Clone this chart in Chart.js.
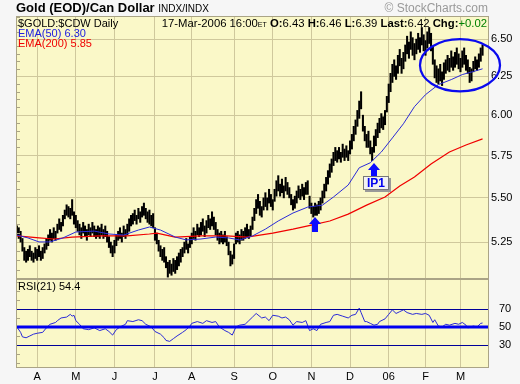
<!DOCTYPE html>
<html>
<head>
<meta charset="utf-8">
<script src="https://cdn.jsdelivr.net/npm/chart.js@4.4.1/dist/chart.umd.min.js"></script>
<style>
  body { margin: 0; background: #f6f6f6; font-family: "Liberation Sans", Arial, sans-serif; }
  #wrap { position: relative; width: 520px; height: 384px; overflow: hidden; }
  canvas { position: absolute; left: 0; }
  .t { position: absolute; white-space: nowrap; font-size: 11px; line-height: 11px; color: #000; }
  #ip1 { position: absolute; font: bold 12px "Liberation Sans", Arial, sans-serif; color: #0000f0;
         background: #f2f2f2; border: 1px solid #777; box-shadow: 2px 2px 0 #999;
         width: 24px; height: 12px; line-height: 12px; text-align: center; }
</style>
</head>
<body>
<div id="wrap">
  <canvas id="main" width="520" height="280" style="top:0"></canvas>
  <canvas id="rsi" width="520" height="105" style="top:279px"></canvas>

  <div class="t" style="left:16px;top:0px;font-weight:bold;font-size:13px;line-height:15px">Gold (EOD)/Can Dollar <span style="font-weight:normal;font-size:10px">INDX/INDX</span></div>
  <div class="t" style="right:32px;top:2px;font-size:12px;line-height:12px;color:#999">© StockCharts.com</div>
  <div class="t" style="right:33px;top:18px;font-size:11.3px">17-Mar-2006 16:00<span style="font-size:7px">ET</span> <b>O:</b>6.43 <b>H:</b>6.46 <b>L:</b>6.39 <b>Last:</b>6.42 <b>Chg:</b><span style="color:#008000">+0.02</span></div>
  <div class="t" style="left:18px;top:18px;line-height:10px">$GOLD:$CDW Daily<br><span style="color:#2020e0">EMA(50) 6.30</span><br><span style="color:#f00000">EMA(200) 5.85</span></div>
  <div class="t" style="left:18px;top:281px">RSI(21) 54.4</div>
  <div id="ip1">IP1</div>
</div>

<script>
// ---------- DATA ----------
// one entry per trading day, 16-Mar-2005 .. 17-Mar-2006
const hi = [
  5.34,5.33,5.31,5.27,5.22,5.20,5.21,5.23,5.20,5.19,
  5.22,5.21,5.23,5.20,5.22,5.24,5.27,5.29,5.32,5.30,
  5.33,5.31,5.35,5.38,5.36,5.40,5.43,5.46,5.45,5.44,
  5.49,5.42,5.40,5.37,5.35,5.33,5.36,5.34,5.32,5.35,
  5.33,5.36,5.34,5.32,5.34,5.33,5.35,5.32,5.34,5.31,
  5.28,5.25,5.23,5.26,5.29,5.31,5.33,5.30,5.34,5.32,
  5.35,5.38,5.40,5.41,5.43,5.40,5.44,5.42,5.45,5.47,
  5.44,5.42,5.43,5.40,5.41,5.33,5.30,5.26,5.23,5.21,
  5.22,5.17,5.14,5.15,5.13,5.16,5.15,5.17,5.19,5.21,
  5.22,5.25,5.27,5.24,5.28,5.30,5.33,5.31,5.35,5.33,
  5.36,5.38,5.34,5.37,5.40,5.38,5.42,5.39,5.36,5.32,
  5.30,5.31,5.29,5.31,5.28,5.25,5.20,5.18,5.24,5.30,
  5.31,5.29,5.32,5.31,5.33,5.35,5.32,5.34,5.39,5.44,
  5.49,5.52,5.48,5.45,5.50,5.53,5.50,5.55,5.52,5.49,
  5.55,5.60,5.63,5.58,5.61,5.57,5.62,5.59,5.56,5.52,
  5.49,5.51,5.54,5.57,5.55,5.58,5.56,5.59,5.60,5.51,
  5.47,5.45,5.47,5.46,5.48,5.50,5.54,5.58,5.62,5.66,
  5.70,5.73,5.77,5.80,5.78,5.80,5.77,5.82,5.79,5.81,
  5.78,5.84,5.88,5.93,5.97,6.03,6.09,6.15,6.00,5.93,
  5.88,5.90,5.84,5.80,5.87,5.91,5.95,5.98,6.01,5.99,
  6.03,6.12,6.20,6.27,6.33,6.36,6.32,6.39,6.43,6.37,
  6.41,6.46,6.52,6.48,6.55,6.51,6.47,6.50,6.54,6.51,
  6.58,6.53,6.49,6.55,6.58,6.54,6.45,6.36,6.32,6.30,
  6.33,6.28,6.34,6.36,6.39,6.37,6.42,6.38,6.41,6.44,
  6.40,6.37,6.42,6.44,6.39,6.36,6.31,6.30,6.35,6.38,
  6.36,6.40,6.44,6.46
];
const lo = [
  5.29,5.27,5.25,5.20,5.15,5.14,5.15,5.17,5.15,5.14,
  5.16,5.15,5.17,5.15,5.16,5.19,5.21,5.23,5.26,5.25,
  5.27,5.26,5.30,5.32,5.31,5.34,5.38,5.40,5.39,5.38,
  5.40,5.35,5.33,5.31,5.29,5.27,5.30,5.28,5.26,5.29,
  5.28,5.30,5.28,5.27,5.28,5.27,5.29,5.27,5.28,5.25,
  5.22,5.19,5.17,5.19,5.23,5.26,5.27,5.25,5.28,5.27,
  5.29,5.31,5.34,5.35,5.37,5.35,5.38,5.36,5.39,5.40,
  5.38,5.36,5.35,5.34,5.33,5.26,5.24,5.20,5.17,5.15,
  5.14,5.11,5.06,5.08,5.07,5.09,5.08,5.10,5.12,5.14,
  5.17,5.19,5.21,5.19,5.22,5.24,5.27,5.26,5.29,5.28,
  5.29,5.31,5.28,5.30,5.33,5.32,5.34,5.32,5.29,5.26,
  5.24,5.25,5.24,5.25,5.23,5.18,5.12,5.13,5.16,5.24,
  5.25,5.24,5.26,5.26,5.27,5.28,5.27,5.28,5.32,5.37,
  5.41,5.44,5.40,5.39,5.43,5.45,5.43,5.47,5.45,5.43,
  5.48,5.51,5.54,5.51,5.53,5.50,5.54,5.52,5.50,5.46,
  5.43,5.44,5.47,5.50,5.49,5.51,5.49,5.52,5.52,5.44,
  5.41,5.39,5.40,5.40,5.41,5.43,5.47,5.50,5.54,5.58,
  5.62,5.65,5.69,5.72,5.71,5.73,5.71,5.74,5.72,5.74,
  5.72,5.76,5.79,5.84,5.88,5.93,5.98,6.04,5.90,5.84,
  5.80,5.80,5.76,5.72,5.77,5.81,5.86,5.89,5.92,5.91,
  5.94,6.02,6.08,6.15,6.21,6.25,6.23,6.27,6.32,6.27,
  6.30,6.35,6.40,6.37,6.43,6.39,6.36,6.40,6.43,6.41,
  6.46,6.42,6.39,6.44,6.47,6.42,6.33,6.24,6.21,6.20,
  6.22,6.19,6.23,6.27,6.29,6.28,6.31,6.29,6.31,6.33,
  6.30,6.28,6.31,6.33,6.29,6.27,6.21,6.22,6.28,6.30,
  6.29,6.31,6.35,6.39
];

// moving averages, sampled along the drawn lines (day index -> value)
const ema50Day = [0,6,12,18,25,32,42,50,58,66,72,78,86,92,100,108,115,121,128,135,142,150,158,166,172,180,186,192,198,204,210,216,222,229,236,242,248,253];
const ema50Val = [5.289,5.273,5.251,5.251,5.273,5.306,5.311,5.295,5.289,5.317,5.334,5.317,5.278,5.262,5.267,5.278,5.273,5.262,5.284,5.322,5.368,5.413,5.447,5.458,5.505,5.575,5.677,5.707,5.772,5.858,5.946,6.054,6.131,6.196,6.229,6.262,6.282,6.30];
const ema200Day = [0,12,20,30,45,60,72,76,86,100,114,125,139,150,160,170,180,190,200,208,216,225,235,244,253];
const ema200Val = [5.284,5.273,5.267,5.278,5.284,5.284,5.295,5.300,5.278,5.284,5.284,5.278,5.300,5.322,5.345,5.368,5.407,5.458,5.505,5.569,5.622,5.700,5.772,5.815,5.852];

// RSI(21), sampled along the line
const rsiDay = [0,2,3,5,7,9,11,14,16,18,21,22,24,27,29,30,31,32,34,36,39,42,45,48,50,52,54,56,59,60,63,66,68,70,73,75,78,80,81,83,85,87,90,92,94,95,98,101,103,106,108,110,113,115,117,119,121,124,126,128,130,133,135,137,139,142,144,146,148,150,152,155,157,159,161,163,165,168,170,172,174,177,180,182,184,186,187,189,190,192,194,196,197,200,202,204,206,208,210,212,215,217,220,222,224,226,227,229,231,233,235,238,240,242,244,245,248,250,252,253];
const rsiVal = [50,44,39,38,40,42,43,44,49,53,55,57,60,61,64,62,63,57,53,48,47,49,46,48,45,41,47,50,53,57,56,58,57,53,50,45,42,38,35,34,37,40,44,47,51,54,56,54,57,55,56,50,46,44,41,50,52,53,57,61,65,60,61,57,63,62,60,61,58,52,56,55,57,46,48,46,53,55,56,63,64,62,60,63,64,71,66,56,56,54,52,53,56,59,64,69,65,67,69,66,64,65,64,65,63,55,58,51,50,53,52,54,53,55,52,49,51,50,54,54.4];

// axes
const monthDay = [11,32,53,75,95,118,139,160,181,202,222,241];
const monthLabels = ["A","M","J","J","A","S","O","N","D","06","F","M"];
const priceTicks = [5.25,5.50,5.75,6.00,6.25,6.50];
const rsiTicks = [30,50,70];
const rsiLevels = [70,50,30];

// annotations (data coordinates)
const arrows = [{ day: 162.1, price: 5.39 }, { day: 193.9, price: 5.707 }];
const ring = { from: 219, to: 262.5, top: 6.50, bottom: 6.152 };

// ---------- STYLE ----------
const PANEL_BG = "#faf8c8";
const GRID = "#cfc89c";
const BORDER = "#aaa486";
const FONT = { family: "'Liberation Sans', Arial, sans-serif", size: 11 };
const X_MIN = -0.5, X_MAX = 256.5;

// ---------- PLUGINS ----------
const panel = {
  id: "panel",
  beforeDraw(chart) {
    const { ctx, chartArea: a } = chart;
    ctx.save();
    ctx.fillStyle = PANEL_BG;
    ctx.fillRect(a.left, a.top, a.right - a.left, a.bottom - a.top);
    ctx.restore();
  },
  afterDatasetsDraw(chart, args, opts) {
    const { ctx, chartArea: a } = chart;
    const ys = chart.scales.y;
    ctx.save();
    // horizontal level lines (rsi only)
    (opts.levels || []).forEach((v) => {
      const y = Math.round(ys.getPixelForValue(v));
      ctx.strokeStyle = v === 50 ? "#0000f0" : "#00009a";
      ctx.lineWidth = v === 50 ? 3 : 1;
      ctx.beginPath();
      ctx.moveTo(a.left, v === 50 ? y : y + 0.5);
      ctx.lineTo(a.right, v === 50 ? y : y + 0.5);
      ctx.stroke();
    });
    // small inner ticks on the left edge
    ctx.strokeStyle = BORDER;
    ctx.lineWidth = 1;
    (opts.minor || []).forEach((v) => {
      const y = Math.round(ys.getPixelForValue(v)) + 0.5;
      if (y <= a.top || y >= a.bottom) return;
      ctx.beginPath();
      ctx.moveTo(a.left, y);
      ctx.lineTo(a.left + 4, y);
      ctx.stroke();
    });
    ctx.strokeRect(a.left + 0.5, a.top + 0.5, a.right - a.left - 1, a.bottom - a.top - 1);
    ctx.restore();
  },
};

const marks = {
  id: "marks",
  afterDraw(chart) {
    const { ctx } = chart;
    const xs = chart.scales.x, ys = chart.scales.y;
    ctx.save();
    // the ring round the top
    const x0 = xs.getPixelForValue(ring.from), x1 = xs.getPixelForValue(ring.to);
    const y0 = ys.getPixelForValue(ring.top), y1 = ys.getPixelForValue(ring.bottom);
    ctx.strokeStyle = "#0a0aee";
    ctx.lineWidth = 2.2;
    ctx.beginPath();
    ctx.ellipse((x0 + x1) / 2, (y0 + y1) / 2, (x1 - x0) / 2, (y1 - y0) / 2, 0, 0, Math.PI * 2);
    ctx.stroke();
    // arrows
    ctx.fillStyle = "#0a0aff";
    arrows.forEach((p) => {
      const x = Math.round(xs.getPixelForValue(p.day)), y = Math.round(ys.getPixelForValue(p.price));
      ctx.beginPath();
      ctx.moveTo(x, y);
      ctx.lineTo(x + 6, y + 7);
      ctx.lineTo(x + 3, y + 7);
      ctx.lineTo(x + 3, y + 15);
      ctx.lineTo(x - 3, y + 15);
      ctx.lineTo(x - 3, y + 7);
      ctx.lineTo(x - 6, y + 7);
      ctx.closePath();
      ctx.fill();
    });
    ctx.restore();
  },
};

function fixTicks(values) {
  return (s) => { s.ticks = values.map((v) => ({ value: v })); };
}
// keep the plot box exactly where the layout padding puts it
function rightAxisFit(s) {
  s.width = 31;
  s.paddingTop = 0;
  s.paddingBottom = 0;
}

// ---------- MAIN PANEL ----------
const bars = hi.map((h, i) => ({ x: i, y: [lo[i], h] }));
const ema50 = ema50Day.map((d, i) => ({ x: d, y: ema50Val[i] }));
const ema200 = ema200Day.map((d, i) => ({ x: d, y: ema200Val[i] }));

const mainChart = new Chart(document.getElementById("main"), {
  type: "bar",
  data: {
    datasets: [
      { type: "line", data: ema50, borderColor: "#2a2ad8", borderWidth: 1, pointRadius: 0, tension: 0, order: 1 },
      { type: "line", data: ema200, borderColor: "#f00000", borderWidth: 1.2, pointRadius: 0, tension: 0, order: 2 },
      { type: "bar", data: bars, backgroundColor: "#000", borderWidth: 0, barThickness: 1.4, order: 3 },
    ],
  },
  options: {
    responsive: false,
    animation: false,
    events: [],
    layout: { padding: { left: 16, top: 16, right: 0, bottom: 1 } },
    plugins: {
      legend: { display: false },
      tooltip: { enabled: false },
      panel: { minor: [5.1,5.15,5.2,5.3,5.35,5.4,5.45,5.55,5.6,5.65,5.7,5.8,5.85,5.9,5.95,6.05,6.1,6.15,6.2,6.3,6.35,6.4,6.45,6.55,6.6,6.65] },
    },
    scales: {
      x: {
        type: "linear", min: X_MIN, max: X_MAX, offset: false,
        afterBuildTicks: fixTicks(monthDay),
        afterFit: (s) => { s.height = 0; },
        ticks: { display: false },
        grid: { color: GRID, drawTicks: false, offset: false },
        border: { display: false },
      },
      y: {
        type: "logarithmic", position: "right", min: 5.05, max: 6.66,
        afterBuildTicks: fixTicks(priceTicks),
        afterFit: rightAxisFit,
        ticks: { callback: (v) => Number(v).toFixed(2), font: FONT, color: "#000", padding: 2 },
        grid: { color: GRID, drawTicks: false },
        border: { display: false },
      },
    },
  },
  plugins: [panel, marks],
});

// ---------- RSI PANEL ----------
const rsiPts = rsiDay.map((d, i) => ({ x: d, y: rsiVal[i] }));

new Chart(document.getElementById("rsi"), {
  type: "line",
  data: {
    datasets: [{ data: rsiPts, borderColor: "#2a2ad8", borderWidth: 1, pointRadius: 0, tension: 0 }],
  },
  options: {
    responsive: false,
    animation: false,
    events: [],
    layout: { padding: { left: 16, top: 0, right: 0, bottom: 0 } },
    plugins: {
      legend: { display: false },
      tooltip: { enabled: false },
      panel: { levels: rsiLevels, minor: [10,20,40,60,80,90,100] },
    },
    scales: {
      x: {
        type: "linear", min: X_MIN, max: X_MAX,
        afterBuildTicks: fixTicks(monthDay),
        afterFit: (s) => { s.height = 16; },
        ticks: { callback: (v, i) => monthLabels[i], font: FONT, color: "#000", padding: 2, autoSkip: false, maxRotation: 0 },
        grid: { color: GRID, drawTicks: false },
        border: { display: false },
      },
      y: {
        position: "right", min: 4.4, max: 103.3,
        afterBuildTicks: fixTicks(rsiTicks),
        afterFit: rightAxisFit,
        ticks: { font: FONT, color: "#000", padding: 2 },
        grid: { display: false },
        border: { display: false },
      },
    },
  },
  plugins: [panel],
});

// ---------- IP1 LABEL ----------
{
  const xs = mainChart.scales.x, ys = mainChart.scales.y;
  const p = arrows[1];
  const el = document.getElementById("ip1");
  el.style.left = Math.round(xs.getPixelForValue(p.day) - 11) + "px";
  el.style.top = Math.round(ys.getPixelForValue(p.price) + 13) + "px";
}
</script>
</body>
</html>
